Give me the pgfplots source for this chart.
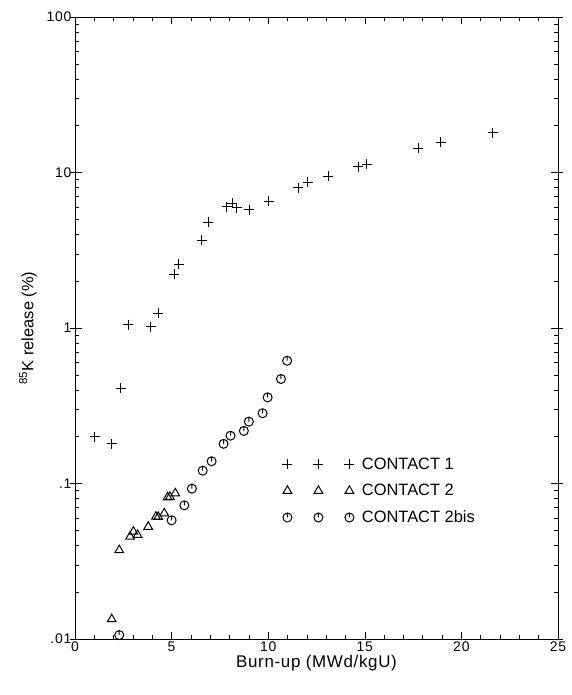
\documentclass[border=0pt]{standalone}
\usepackage{pgfplots}
\pgfplotsset{compat=1.18}
\usepackage{fontspec}
\setmainfont{Liberation Sans}
\newfontfamily\tickfont[LetterSpace=6]{Liberation Sans}
\newfontfamily\labfont[LetterSpace=4]{Liberation Sans}
\pgfdeclareplotmark{circtick}{%
  \pgfpathcircle{\pgfpoint{0pt}{0pt}}{\pgfplotmarksize}%
  \pgfpathmoveto{\pgfpoint{0pt}{\pgfplotmarksize}}%
  \pgfpathlineto{\pgfpoint{0pt}{0pt}}%
  \pgfusepathqstroke}
\begin{document}
\begin{tikzpicture}
\useasboundingbox (-75bp,-56bp) rectangle (497bp,639bp);
\begin{axis}[
  at={(0bp,0bp)}, anchor=south west,
  scale only axis,
  width=483bp, height=622bp,
  xmin=0, xmax=25,
  ymode=log, ymin=0.01, ymax=100,
  xtick={0,5,10,15,20,25},
  minor x tick num=4,
  ytick={0.01,0.1,1,10,100},
  yticklabels={.01,.1,1,10,100},
  extra y ticks={0.01,0.1,1,10,100},
  extra y tick labels={},
  extra y tick style={tick align=outside, major tick length=5bp},
  tick align=inside,
  tick style={black, line width=0.6pt},
  major tick length=7bp,
  minor tick length=4bp,
  axis line style={line width=0.8pt},
  tick label style={font=\tickfont\fontsize{14}{16}\selectfont},
  xticklabel style={yshift=1bp},
  /pgf/number format/assume math mode=true,
  xlabel={Burn-up (MWd/kgU)},
  ylabel={\textsuperscript{85}K release (\%)},
  xlabel style={font=\labfont\fontsize{17}{19}\selectfont, yshift=3bp},
  ylabel style={font=\fontsize{16.5}{19}\selectfont, yshift=-2bp},
  legend style={draw=none, fill=none, inner sep=0pt, at={(0.429,0.294)}, anchor=north west,
    font=\fontsize{16.5}{18}\selectfont, row sep=10.5bp, column sep=6bp,
    nodes={inner sep=1.5bp},
    legend cell align=left},
  legend image code/.code={%
    \draw[#1, only marks] plot coordinates {(0bp,0bp) (31bp,0bp) (62bp,0bp)};},
]
\addplot[only marks, mark=+, mark size=5bp, black, line width=0.9pt] coordinates {
(1.03,0.20) (1.90,0.18) (2.36,0.41) (2.76,1.05) (3.92,1.02) (4.31,1.24)
(5.14,2.22) (5.36,2.57) (6.55,3.68) (6.90,4.78) (7.85,6.03) (8.14,6.34)
(8.37,5.94) (9.02,5.75) (10.02,6.56) (11.55,7.99) (12.04,8.64) (13.10,9.49)
(14.66,10.9) (15.11,11.3) (17.76,14.3) (18.93,15.6) (21.62,18.0)
};
\addlegendentry{CONTACT 1}
\addplot[only marks, mark=triangle, mark size=5bp, black, line width=1pt] coordinates {
(1.90,0.0134) (2.29,0.0373) (2.85,0.0455) (3.02,0.049) (3.24,0.0467)
(3.79,0.0527) (4.19,0.0612) (4.31,0.061) (4.62,0.0643) (4.79,0.0815)
(4.91,0.082) (5.19,0.0865)
};
\addlegendentry{CONTACT 2}
\addplot[only marks, mark=circtick, mark size=4.5bp, black, line width=1pt] coordinates {
(2.29,0.0106) (5.00,0.058) (5.66,0.0724) (6.05,0.0927) (6.61,0.121)
(7.07,0.139) (7.69,0.180) (8.05,0.203) (8.74,0.218) (9.00,0.250)
(9.71,0.283) (9.97,0.358) (10.66,0.47) (10.98,0.616)
};
\addlegendentry{CONTACT 2bis}
\end{axis}
\end{tikzpicture}
\end{document}
